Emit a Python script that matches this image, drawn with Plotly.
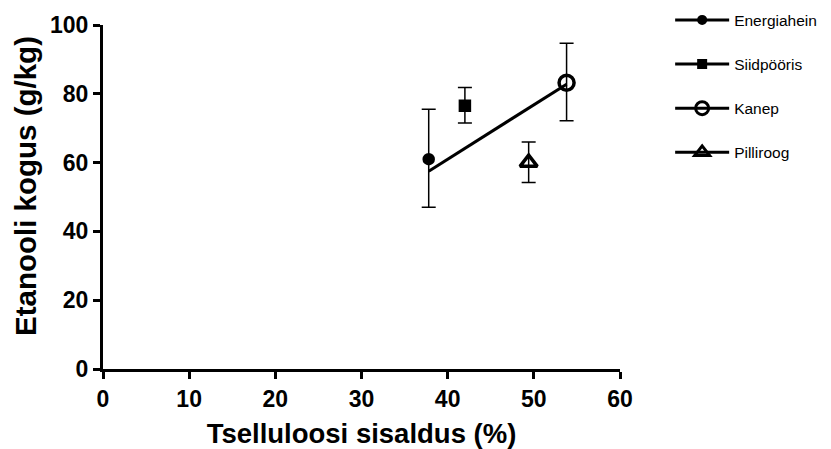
import plotly.graph_objects as go

# values
names = ["Energiahein", "Siidpööris", "Kanep", "Pilliroog"]
cellulose = [37.8, 42.0, 53.8, 49.4]
ethanol = [61.0, 76.5, 83.2, 60.0]
err_up = [14.5, 5.3, 11.5, 6.0]
err_down = [14.0, 5.0, 11.0, 5.8]
symbols = ["circle", "square", "circle-open", "triangle-up-open"]
sizes = [9, 9, 15, 15]

fit_x = [37.8, 53.8]
fit_y = [57.5, 82.8]

FONT = "Liberation Sans, Arial, sans-serif"

fig = go.Figure()

fig.add_trace(go.Scatter(
    x=fit_x, y=fit_y, mode="lines", showlegend=False,
    line=dict(color="black", width=3), hoverinfo="skip",
))

for i, name in enumerate(names):
    fig.add_trace(go.Scatter(
        x=[cellulose[i]], y=[ethanol[i]], mode="markers", name=name,
        legendgroup=name, showlegend=False,
        marker=dict(symbol=symbols[i], size=sizes[i], color="black",
                    line=dict(color="black", width=3.5)),
        error_y=dict(type="data", array=[err_up[i]], arrayminus=[err_down[i]],
                     color="black", thickness=1.5, width=7),
    ))
    # legend entry drawn as line + marker like the original
    fig.add_trace(go.Scatter(
        x=[None], y=[None], mode="lines+markers", name=name,
        legendgroup=name,
        line=dict(color="black", width=3),
        marker=dict(symbol=symbols[i], size=sizes[i] - 2, color="black",
                    line=dict(color="black", width=3)),
    ))

axis_common = dict(
    showgrid=False, zeroline=False, showline=True, linecolor="black",
    linewidth=3, ticks="outside", ticklen=7, tickwidth=2.5, tickcolor="black",
    tickfont=dict(family=FONT, size=23, color="black", weight="bold"),
    automargin=False,
)

fig.update_xaxes(range=[0, 60], dtick=10, title_text="Tselluloosi sisaldus (%)",
                 title_standoff=14,
                 title_font=dict(family=FONT, size=27.5, color="black", weight="bold"),
                 **axis_common)
fig.update_yaxes(range=[0, 100], dtick=20, **axis_common)

# y title as annotation so it can sit a little above the axis centre
fig.add_annotation(
    text="Etanooli kogus (g/kg)", textangle=-90, showarrow=False,
    xref="paper", yref="paper", x=-0.149, y=0.532,
    xanchor="center", yanchor="middle", borderpad=0,
    font=dict(family=FONT, size=29.5, color="black", weight="bold"),
)

# page body has an 8px margin, so margins are offset to land the axes in place
fig.update_layout(
    width=831, height=449,
    margin=dict(l=95, r=219, t=17, b=88, autoexpand=False),
    plot_bgcolor="white", paper_bgcolor="white",
    legend=dict(x=1.097, y=1.063, xanchor="left", yanchor="top",
                font=dict(family=FONT, size=15.5, color="black"),
                itemwidth=54, tracegroupgap=21, bgcolor="rgba(0,0,0,0)"),
)

fig.write_html("out.html")
